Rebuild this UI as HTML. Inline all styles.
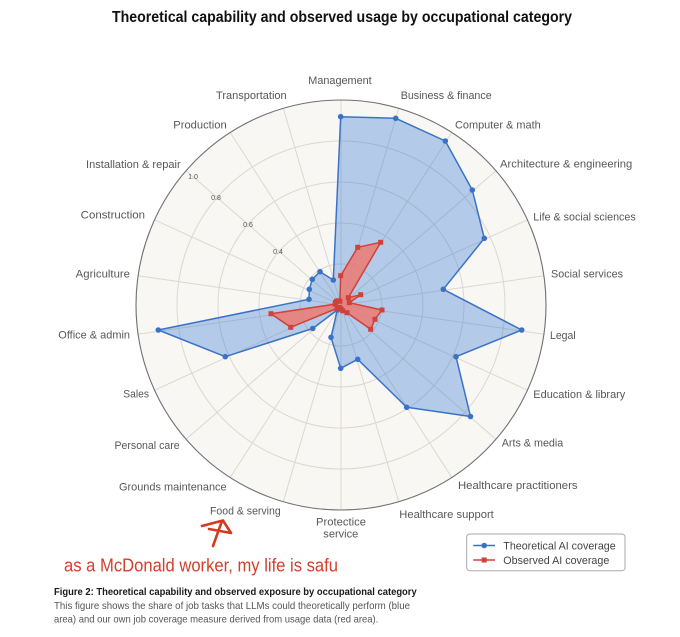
<!DOCTYPE html>
<html>
<head>
<meta charset="utf-8">
<style>
  html,body{margin:0;padding:0;background:#fff;}
  svg{display:block;}
  text{font-family:"Liberation Sans", Arial, sans-serif;}
</style>
</head>
<body>
<svg width="680" height="637" viewBox="0 0 680 637" xmlns="http://www.w3.org/2000/svg">
  <rect x="0" y="0" width="680" height="637" fill="#ffffff"/>

  <!-- Title -->
  <text x="112" y="22" font-size="16" font-weight="bold" fill="#111" textLength="460" lengthAdjust="spacingAndGlyphs">Theoretical capability and observed usage by occupational category</text>

  <!-- Polar background -->
  <circle cx="341" cy="305" r="205" fill="#f8f7f3"/>

  <!-- Grid rings -->
  <g fill="none" stroke="#dcd8cf" stroke-width="1">
    <circle cx="341" cy="305" r="41"/>
    <circle cx="341" cy="305" r="82"/>
    <circle cx="341" cy="305" r="123"/>
    <circle cx="341" cy="305" r="164"/>
  </g>
  <!-- Spokes -->
  <g stroke="#dcd8cf" stroke-width="1">
    <line x1="341" y1="305" x2="341" y2="100"/>
    <line x1="341" y1="305" x2="398.7" y2="108.3"/>
    <line x1="341" y1="305" x2="451.8" y2="132.5"/>
    <line x1="341" y1="305" x2="495.9" y2="170.7"/>
    <line x1="341" y1="305" x2="527.5" y2="219.8"/>
    <line x1="341" y1="305" x2="543.9" y2="275.8"/>
    <line x1="341" y1="305" x2="543.9" y2="334.2"/>
    <line x1="341" y1="305" x2="527.5" y2="390.2"/>
    <line x1="341" y1="305" x2="495.9" y2="439.3"/>
    <line x1="341" y1="305" x2="451.8" y2="477.5"/>
    <line x1="341" y1="305" x2="398.7" y2="501.7"/>
    <line x1="341" y1="305" x2="341" y2="510"/>
    <line x1="341" y1="305" x2="283.3" y2="501.7"/>
    <line x1="341" y1="305" x2="230.2" y2="477.5"/>
    <line x1="341" y1="305" x2="186.1" y2="439.3"/>
    <line x1="341" y1="305" x2="154.5" y2="390.2"/>
    <line x1="341" y1="305" x2="138.1" y2="334.2"/>
    <line x1="341" y1="305" x2="138.1" y2="275.8"/>
    <line x1="341" y1="305" x2="154.5" y2="219.8"/>
    <line x1="341" y1="305" x2="186.1" y2="170.7"/>
    <line x1="341" y1="305" x2="230.2" y2="132.5"/>
    <line x1="341" y1="305" x2="283.3" y2="108.3"/>
  </g>

  <!-- Radial tick labels -->
  <g font-size="7" fill="#555" text-anchor="middle">
    <text x="278" y="254">0.4</text>
    <text x="248" y="227">0.6</text>
    <text x="216" y="200">0.8</text>
    <text x="193" y="179">1.0</text>
  </g>

  <!-- Spine -->
  <circle cx="341" cy="305" r="205" fill="none" stroke="#707070" stroke-width="1.1"/>

  <!-- Theoretical (blue) -->
  <polygon points="340.7,116.7 395.7,118.3 445.3,141 472.3,190 484.3,238.3 443.3,289.3 521.7,330 456,356.7 470.5,416.5 406.7,407.3 357.7,359.3 340.7,368.3 331,337.3 337.3,310 312.7,328.5 225.3,356.7 158.3,330 309,299.3 309.3,289.3 312.3,279.3 320,271.7 333.3,280"
    fill="#3a7bd5" fill-opacity="0.36" stroke="#3a73c6" stroke-width="1.5" stroke-linejoin="round"/>
  <g fill="#3a73c6">
    <circle cx="340.7" cy="116.7" r="2.8"/><circle cx="395.7" cy="118.3" r="2.8"/>
    <circle cx="445.3" cy="141" r="2.8"/><circle cx="472.3" cy="190" r="2.8"/>
    <circle cx="484.3" cy="238.3" r="2.8"/><circle cx="443.3" cy="289.3" r="2.8"/>
    <circle cx="521.7" cy="330" r="2.8"/><circle cx="456" cy="356.7" r="2.8"/>
    <circle cx="470.5" cy="416.5" r="2.8"/><circle cx="406.7" cy="407.3" r="2.8"/>
    <circle cx="357.7" cy="359.3" r="2.8"/><circle cx="340.7" cy="368.3" r="2.8"/>
    <circle cx="331" cy="337.3" r="2.8"/><circle cx="337.3" cy="310" r="2.8"/>
    <circle cx="312.7" cy="328.5" r="2.8"/><circle cx="225.3" cy="356.7" r="2.8"/>
    <circle cx="158.3" cy="330" r="2.8"/><circle cx="309" cy="299.3" r="2.8"/>
    <circle cx="309.3" cy="289.3" r="2.8"/><circle cx="312.3" cy="279.3" r="2.8"/>
    <circle cx="320" cy="271.7" r="2.8"/><circle cx="333.3" cy="280" r="2.8"/>
  </g>

  <!-- Observed (red) -->
  <polygon points="340.7,275.7 357.7,247.3 380.7,242.3 348.3,297.7 360.7,294.7 349.3,302.7 382,310 375,319.3 370.7,329.3 347,312.7 342.7,310.8 341,309 339.9,308.8 339.4,307.5 337.2,308.3 290.7,327.3 271,313.7 335.1,304.1 335.5,302.5 336.5,301.1 338.3,300.8 339.9,301.2"
    fill="#ec7a72" fill-opacity="0.85" stroke="#cf4139" stroke-width="1.5" stroke-linejoin="round"/>
  <g fill="#cf4139">
    <rect x="338.2" y="273.2" width="5" height="5"/><rect x="355.2" y="244.8" width="5" height="5"/>
    <rect x="378.2" y="239.8" width="5" height="5"/><rect x="345.8" y="295.2" width="5" height="5"/>
    <rect x="358.2" y="292.2" width="5" height="5"/><rect x="346.8" y="300.2" width="5" height="5"/>
    <rect x="379.5" y="307.5" width="5" height="5"/><rect x="372.5" y="316.8" width="5" height="5"/>
    <rect x="368.2" y="326.8" width="5" height="5"/><rect x="344.5" y="310.2" width="5" height="5"/>
    <rect x="340.2" y="308.3" width="5" height="5"/><rect x="338.5" y="306.5" width="5" height="5"/>
    <rect x="337.4" y="306.3" width="5" height="5"/><rect x="336.9" y="305" width="5" height="5"/>
    <rect x="334.7" y="305.8" width="5" height="5"/><rect x="288.2" y="324.8" width="5" height="5"/>
    <rect x="268.5" y="311.2" width="5" height="5"/><rect x="332.6" y="301.6" width="5" height="5"/>
    <rect x="333" y="300" width="5" height="5"/><rect x="334" y="298.6" width="5" height="5"/>
    <rect x="335.8" y="298.3" width="5" height="5"/><rect x="337.4" y="298.7" width="5" height="5"/>
  </g>

  <!-- Category labels -->
  <g font-size="11" fill="#575757" lengthAdjust="spacingAndGlyphs">
    <text x="308.3" y="84" textLength="63.4" lengthAdjust="spacingAndGlyphs">Management</text>
    <text x="400.7" y="99" textLength="91" lengthAdjust="spacingAndGlyphs">Business &amp; finance</text>
    <text x="455" y="128.3" textLength="85.7" lengthAdjust="spacingAndGlyphs">Computer &amp; math</text>
    <text x="500" y="167.3" textLength="132.3" lengthAdjust="spacingAndGlyphs">Architecture &amp; engineering</text>
    <text x="533.3" y="220.7" textLength="102.4" lengthAdjust="spacingAndGlyphs">Life &amp; social sciences</text>
    <text x="551" y="277.3" textLength="72" lengthAdjust="spacingAndGlyphs">Social services</text>
    <text x="550" y="339" textLength="25.7" lengthAdjust="spacingAndGlyphs">Legal</text>
    <text x="533.3" y="398" textLength="92" lengthAdjust="spacingAndGlyphs">Education &amp; library</text>
    <text x="501.7" y="446.3" textLength="61.6" lengthAdjust="spacingAndGlyphs">Arts &amp; media</text>
    <text x="458" y="489" textLength="119.5" lengthAdjust="spacingAndGlyphs">Healthcare practitioners</text>
    <text x="399.3" y="518" textLength="94.5" lengthAdjust="spacingAndGlyphs">Healthcare support</text>
    <text x="316" y="525.7" textLength="50" lengthAdjust="spacingAndGlyphs">Protectice</text>
    <text x="323.3" y="537.3" textLength="35" lengthAdjust="spacingAndGlyphs">service</text>
    <text x="210" y="514.7" textLength="70.7" lengthAdjust="spacingAndGlyphs">Food &amp; serving</text>
    <text x="119" y="490.4" textLength="107.6" lengthAdjust="spacingAndGlyphs">Grounds maintenance</text>
    <text x="114.5" y="448.9" textLength="65.1" lengthAdjust="spacingAndGlyphs">Personal care</text>
    <text x="123.3" y="397.7" textLength="25.7" lengthAdjust="spacingAndGlyphs">Sales</text>
    <text x="58.3" y="338.3" textLength="71.7" lengthAdjust="spacingAndGlyphs">Office &amp; admin</text>
    <text x="75.7" y="277.3" textLength="54.3" lengthAdjust="spacingAndGlyphs">Agriculture</text>
    <text x="80.7" y="218.3" textLength="64.3" lengthAdjust="spacingAndGlyphs">Construction</text>
    <text x="86" y="168" textLength="94.7" lengthAdjust="spacingAndGlyphs">Installation &amp; repair</text>
    <text x="173.3" y="128.3" textLength="53.4" lengthAdjust="spacingAndGlyphs">Production</text>
    <text x="216" y="99" textLength="70.7" lengthAdjust="spacingAndGlyphs">Transportation</text>
  </g>

  <!-- Legend -->
  <rect x="466.7" y="534" width="158.3" height="36.7" rx="3" ry="3" fill="#fff" stroke="#a8a8a8" stroke-width="1"/>
  <line x1="473.3" y1="545.5" x2="495" y2="545.5" stroke="#3a73c6" stroke-width="1.5"/>
  <circle cx="484.2" cy="545.5" r="2.8" fill="#3a73c6"/>
  <line x1="473.3" y1="560" x2="495" y2="560" stroke="#cf4139" stroke-width="1.5"/>
  <rect x="481.7" y="557.5" width="5" height="5" fill="#cf4139"/>
  <text x="503.3" y="549.5" font-size="11" fill="#444" textLength="112.4" lengthAdjust="spacingAndGlyphs">Theoretical AI coverage</text>
  <text x="503.3" y="564" font-size="11" fill="#444" textLength="106" lengthAdjust="spacingAndGlyphs">Observed AI coverage</text>

  <!-- Hand-drawn arrow -->
  <path d="M202,526 L223,520.5 L231,533 L209,529 M222,521 L213,546" fill="none" stroke="#d23a22" stroke-width="2.6" stroke-linecap="round" stroke-linejoin="round"/>

  <!-- Annotation -->
  <text x="64" y="571.5" font-size="18" fill="#d2402c" textLength="274" lengthAdjust="spacingAndGlyphs">as a McDonald worker, my life is safu</text>

  <!-- Caption -->
  <text x="54" y="595" font-size="10.5" font-weight="bold" fill="#1a1a1a" textLength="362.7" lengthAdjust="spacingAndGlyphs">Figure 2: Theoretical capability and observed exposure by occupational category</text>
  <text x="54" y="609" font-size="10.5" fill="#555" textLength="356" lengthAdjust="spacingAndGlyphs">This figure shows the share of job tasks that LLMs could theoretically perform (blue</text>
  <text x="54" y="622.5" font-size="10.5" fill="#555" textLength="324.3" lengthAdjust="spacingAndGlyphs">area) and our own job coverage measure derived from usage data (red area).</text>
</svg>
</body>
</html>
